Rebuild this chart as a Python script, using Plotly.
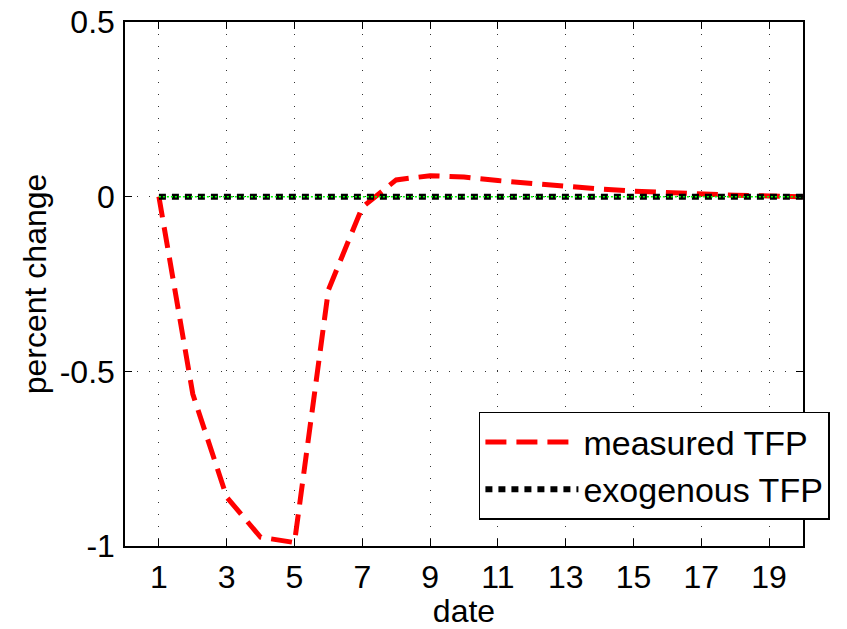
import plotly.graph_objects as go

dates = list(range(1, 21))
measured_tfp = [0.0, -0.565, -0.86, -0.975, -0.99, -0.267, -0.03, 0.048, 0.06, 0.056,
                0.046, 0.037, 0.029, 0.022, 0.016, 0.011, 0.007, 0.004, 0.002, 0.0]
exogenous_tfp = [0.0] * 20
x_ticks = [1, 3, 5, 7, 9, 11, 13, 15, 17, 19]
y_ticks = [-1, -0.5, 0, 0.5]
y_tick_text = ["-1", "-0.5", "0", "0.5"]

FONT = "Liberation Sans, Arial"
FS = 32

fig = go.Figure()
fig.add_trace(go.Scatter(x=dates, y=measured_tfp, mode="lines", name="measured TFP",
                         line=dict(color="#ff0000", width=5, dash="21px,10px")))
fig.add_trace(go.Scatter(x=dates, y=exogenous_tfp, mode="lines", name="exogenous TFP",
                         line=dict(color="#000000", width=6, dash="7px,6px")))
fig.add_trace(go.Scatter(x=dates, y=exogenous_tfp, mode="lines", showlegend=False,
                         line=dict(color="#00ff00", width=1.5, dash="2px,2px")))

axis_common = dict(showline=True, linecolor="black", linewidth=1.5, mirror="ticks",
                   ticks="inside", ticklen=7, tickcolor="black", tickwidth=1,
                   showgrid=True, gridcolor="#333333", gridwidth=1, griddash="1px,11px",
                   zeroline=False, automargin=False, ticklabeloverflow="allow",
                   tickfont=dict(family=FONT, size=FS, color="black"),
                   title_font=dict(family=FONT, size=FS, color="black"))

fig.update_xaxes(range=[0, 20], tickvals=x_ticks, title_text="date", title_standoff=2,
                 ticklabelstandoff=2, **axis_common)
fig.update_yaxes(range=[-1, 0.5], tickvals=y_ticks, ticktext=y_tick_text,
                 title_text="percent change", title_standoff=4, ticklabelstandoff=2, **axis_common)

fig.update_layout(
    width=847, height=629,
    margin=dict(l=125, r=44, t=22, b=83),
    plot_bgcolor="white", paper_bgcolor="white",
    font=dict(family=FONT, size=FS, color="black"),
    legend=dict(x=0.522, y=0.256, xanchor="left", yanchor="top",
                bgcolor="white", bordercolor="black", borderwidth=1.5,
                font=dict(size=34, family=FONT),
                itemwidth=93, tracegroupgap=0),
    showlegend=True,
)

fig.write_html("out.html", config={"displayModeBar": False},
               post_script="document.body.style.margin='0';")
